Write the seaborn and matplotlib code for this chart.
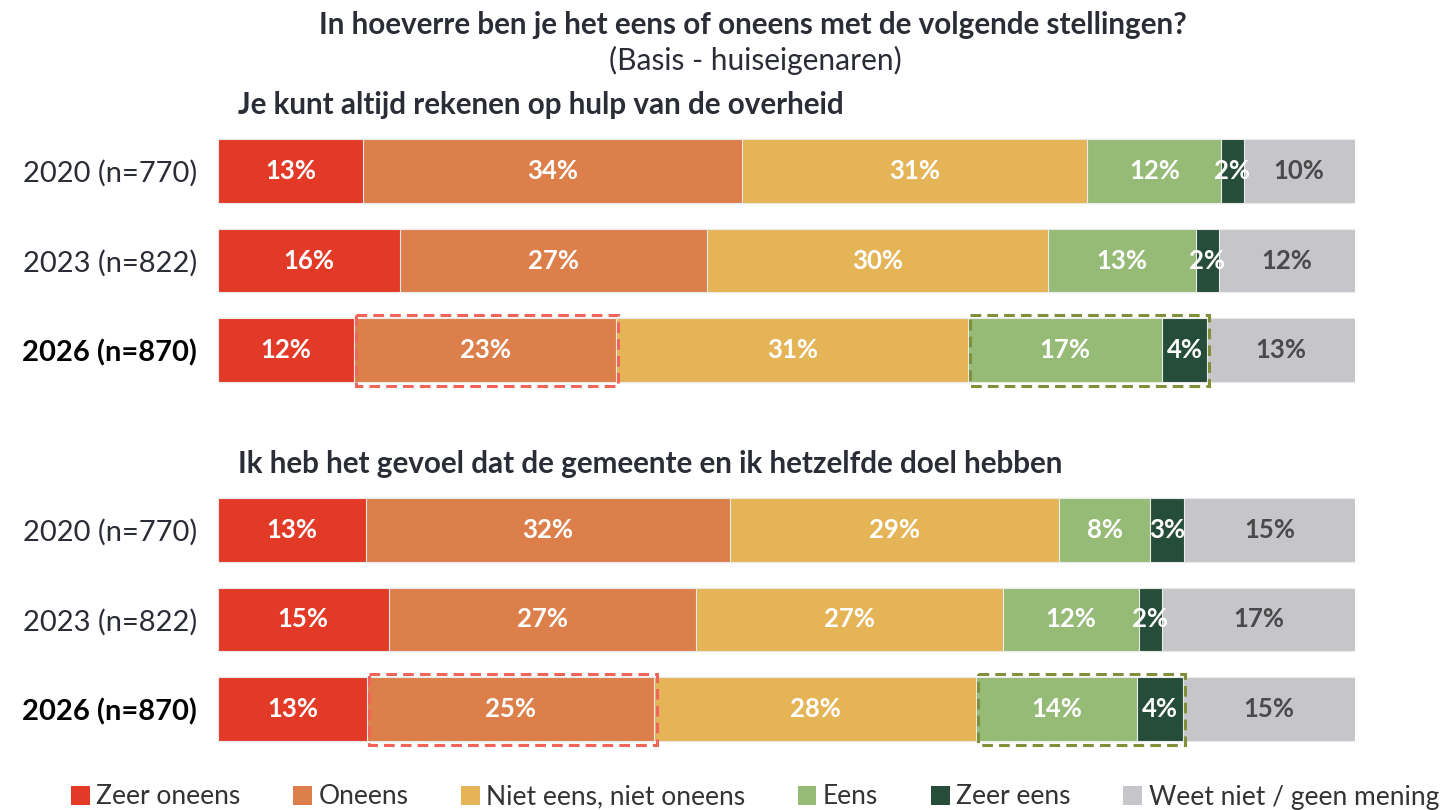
import matplotlib
matplotlib.use("Agg")
import matplotlib.pyplot as plt
from matplotlib.patches import Rectangle, Patch
import seaborn as sns
import pandas as pd
import numpy as np

# ---------------- data ----------------
categories = ['Zeer oneens', 'Oneens', 'Niet eens, niet oneens', 'Eens', 'Zeer eens',
              'Weet niet / geen mening']
statements = ['Je kunt altijd rekenen op hulp van de overheid',
              'Ik heb het gevoel dat de gemeente en ik hetzelfde doel hebben']
years = ['2020 (n=770)', '2023 (n=822)', '2026 (n=870)']
values_s1 = [[13, 34, 31, 12, 2, 10],
             [16, 27, 30, 13, 2, 12],
             [12, 23, 31, 17, 4, 13]]
values_s2 = [[13, 32, 29, 8, 3, 15],
             [15, 27, 27, 12, 2, 17],
             [13, 25, 28, 14, 4, 15]]
title = 'In hoeverre ben je het eens of oneens met de volgende stellingen?'
subtitle = '(Basis - huiseigenaren)'

# ---------------- style ----------------
colors = ['#E23A27', '#DC7F4B', '#E4B457', '#96BB77', '#264D3A', '#C6C5CA']
label_colors = ['white', 'white', 'white', 'white', 'white', '#4A4A4A']
highlights = [(1, 1, '#F0645A'), (3, 4, '#7F8F3A')]   # (first cat, last cat, colour) on latest year

sns.set_theme(style='white')
FONT = 'Lato'
plt.rcParams['font.family'] = [FONT, 'DejaVu Sans']

all_values = [values_s1, values_s2]
rows = []
for g, vals in enumerate(all_values):
    for r, v in enumerate(vals):
        v = np.array(v, dtype=float)
        w = v / v.sum() * 100
        cum = np.cumsum(w)
        for c, cat in enumerate(categories):
            rows.append(dict(group=g, year=r, pos=g * 4 + r, cat=cat, ci=c,
                             value=v[c], left=cum[c] - w[c], right=cum[c]))
df = pd.DataFrame(rows)

fig = plt.figure(figsize=(14.5, 8.1), dpi=100)
ax = fig.add_axes([218 / 1450, 1 - 754 / 810, (1355 - 218) / 1450, (754 - 126) / 810])

BAR_H = 0.71
for c in reversed(range(len(categories))):
    sub = df[df.ci == c]
    sns.barplot(data=sub, x='right', y='pos', orient='y', native_scale=True,
                color=colors[c], saturation=1, width=BAR_H, errorbar=None,
                edgecolor='#EAEAEA', linewidth=0.8, ax=ax)

for _, row in df.iterrows():
    if row.value > 0:
        ax.text((row.left + row.right) / 2, row.pos, f"{int(row.value)}%",
                ha='center', va='center', fontsize=18.5, fontweight='bold',
                color=label_colors[row.ci])

# highlight boxes on the latest year
for g in range(len(all_values)):
    last = len(years) - 1
    sub = df[(df.group == g) & (df.year == last)]
    pos = g * 4 + last
    for c0, c1, col in highlights:
        x0 = sub[sub.ci == c0].left.iloc[0]
        x1 = sub[sub.ci == c1].right.iloc[0]
        ax.add_patch(Rectangle((x0 + 0.15, pos - BAR_H / 2 - 0.04), x1 - x0 + 0.05, BAR_H + 0.08,
                               fill=False, edgecolor=col, linewidth=2.2,
                               linestyle=(0, (3.5, 2.0)), zorder=5, clip_on=False))

# statement titles
for g, s in enumerate(statements):
    ax.text(1.76, g * 4 - 0.73, s, ha='left', va='center', fontsize=21.3,
            fontweight='bold', color='#2B2D36')

ax.set_xlim(0, 100)
ax.set_ylim(6.5, -0.5)
ticks = [g * 4 + r for g in range(len(statements)) for r in range(len(years))]
ax.set_yticks(ticks)
ax.set_yticklabels(years * len(statements))
for i, t in enumerate(ax.get_yticklabels()):
    bold = (i % len(years)) == len(years) - 1
    t.set_fontweight('bold' if bold else 'normal')
    t.set_color('black' if bold else '#2B2D36')
    t.set_fontsize(21)
ax.tick_params(axis='y', length=0, pad=15)
ax.set_xticks([])
ax.set_xlabel('')
ax.set_ylabel('')
for sp in ax.spines.values():
    sp.set_visible(False)

fig.text(753 / 1450, 1 - 25 / 810, title, ha='center', va='center', fontsize=21.3,
         fontweight='bold', color='#2B2D36')
fig.text(755 / 1450, 1 - 60 / 810, subtitle, ha='center', va='center', fontsize=21.5,
         color='#2B2D36')

handles = [Patch(facecolor=colors[i], edgecolor='none') for i in range(len(categories))]
leg = fig.legend(handles, categories, loc='center', bbox_to_anchor=(755 / 1450, 1 - 797 / 810),
                 ncol=6, frameon=False, fontsize=19, handlelength=0.7, handleheight=0.7,
                 handletextpad=0.25, columnspacing=2.0, borderpad=0.1)
for t in leg.get_texts():
    t.set_color('#333333')

fig.savefig('out.png', dpi=100)
